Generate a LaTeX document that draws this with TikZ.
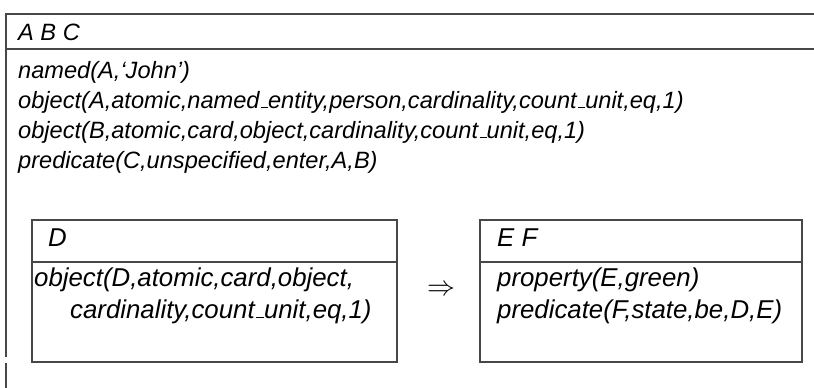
\documentclass[tikz,border=0pt]{standalone}
\usepackage{fontspec}
\setmainfont{Liberation Sans}
% LaTeX-style underscore: a short rule on the baseline
\newcommand{\usc}{\leavevmode\kern.06em\vbox{\hrule height .055em width .3em}}
\tikzset{
  frame/.style={draw=black!72, line width=1.1pt},
  maintxt/.style={anchor=base west, inner sep=0pt, font=\fontsize{23.6}{29}\selectfont\itshape},
  boxtxt/.style={anchor=base west, inner sep=0pt, font=\fontsize{25.8}{31}\selectfont\itshape},
}
\begin{document}
\begin{tikzpicture}[x=1pt,y=-1pt]
\useasboundingbox (0,0) rectangle (814,388);
% outer box (open to the right and bottom); the left rule has a short break
\draw[frame] (814,14) -- (6,14) -- (6,357);
\draw[frame] (6,363) -- (6,388);
\draw[frame] (6,49) -- (814,49);
\node[maintxt] (abc) at (18,40) {A B C};
\node[maintxt] (l1) at (18,78) {named(A,‘John’)};
\node[maintxt] (l2) at (18,108) {object(A,atomic,named\usc entity,person,cardinality,count\usc unit,eq,1)};
\node[maintxt] (l3) at (18,138) {object(B,atomic,card,object,cardinality,count\usc unit,eq,1)};
\node[maintxt] (l4) at (18,168) {predicate(C,unspecified,enter,A,B)};
% left inner box
\draw[frame] (32,220) rectangle (397,362);
\draw[frame] (32,262) -- (397,262);
\node[boxtxt] (dh) at (48,246) {D};
\node[boxtxt] (d1) at (34,286) {object(D,atomic,card,object,};
\node[boxtxt] (d2) at (70,318) {cardinality,count\usc unit,eq,1)};
% implication
\node[inner sep=0pt] (imp) at (441,290) {\scalebox{2.8}{$\Rightarrow$}};
% right inner box
\draw[frame] (480,220) rectangle (802,362);
\draw[frame] (480,262) -- (802,262);
\node[boxtxt] (eh) at (497,246) {E F};
\node[boxtxt] (e1) at (497,286) {property(E,green)};
\node[boxtxt] (e2) at (497,318) {predicate(F,state,be,D,E)};
\end{tikzpicture}
\end{document}
